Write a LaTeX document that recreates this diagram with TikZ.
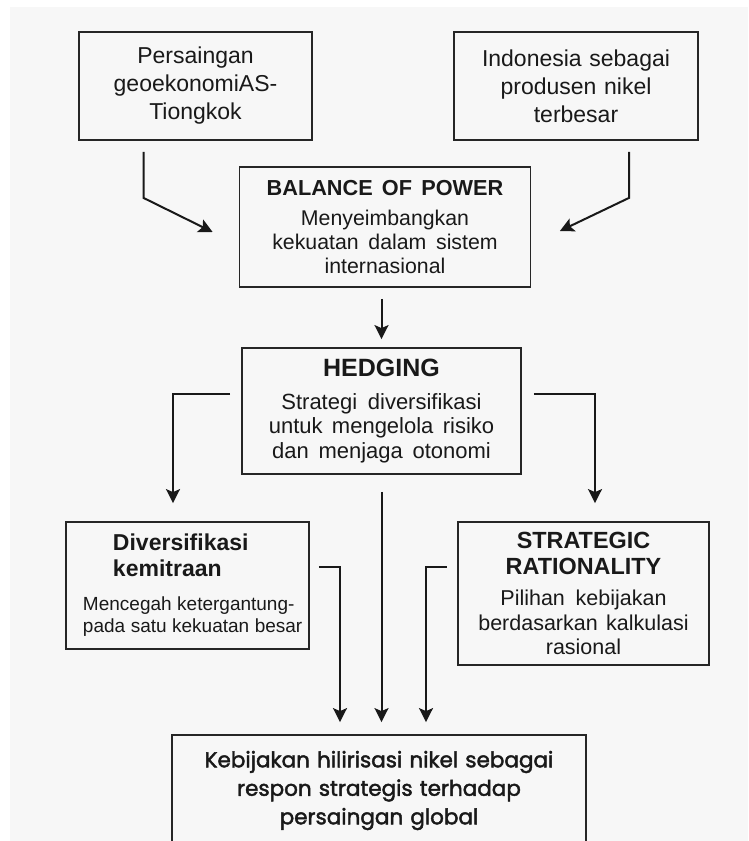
\documentclass[tikz,border=0pt]{standalone}
\usepackage{fontspec}
\setmainfont{Liberation Sans}
\newfontfamily\popfont[FakeBold=2]{Poppins}
\usetikzlibrary{arrows.meta,calc}
\newcommand\ukuran[2]{\fontsize{#1}{#2}\selectfont\spaceskip=.29em plus .1em\relax}

\begin{document}
\begin{tikzpicture}[x=1pt,y=-1pt,
    kotak/.style={draw=black!85, line width=1.8pt, rectangle, align=center, inner sep=0pt, text=black!90},
    panah/.style={-{Stealth[length=14pt,width=14pt,inset=3pt]}, line width=2pt, draw=black!90}]
    \useasboundingbox (0,0) rectangle (748,841);
    \fill[white] (0,0) rectangle (748,841);
    \fill[black!3] (10,7) rectangle (748,841);
    \clip (0,0) rectangle (748,841);

    \node[kotak, text width=233pt, minimum height=108pt, font=\ukuran{23}{28}] (persaingan) at (195.5,86) {Persaingan\\geoekonomiAS-\\Tiongkok};
    \node[kotak, text width=244pt, minimum height=108pt, font=\ukuran{23}{28}] (produsen) at (576,86) {Indonesia sebagai\\produsen nikel\\terbesar};

    \node[kotak, text width=291pt, minimum height=120pt] (bop) at (385,227) {{\bfseries\ukuran{21.7}{24}BALANCE OF POWER\par}\vspace{6pt}{\ukuran{21.3}{24}Menyeimbangkan\\kekuatan dalam sistem\\internasional\par}};

    \node[kotak, text width=279pt, minimum height=126pt] (hedging) at (381.5,411) {{\bfseries\ukuran{25}{26}HEDGING\par}\vspace{8.5pt}{\ukuran{22}{24.5}Strategi diversifikasi\\untuk mengelola risiko\\dan menjaga otonomi\par}};

    \node[kotak, align=left, text width=243pt, minimum height=127pt] (divers) at (187.5,585.5) {{\bfseries\ukuran{23}{26}\hspace*{47pt}Diversifikasi\\\hspace*{47pt}kemitraan\par}\vspace{12pt}{\ukuran{19}{22}\hspace*{17pt}Mencegah ketergantung-\\\hspace*{17pt}pada satu kekuatan besar\par}};

    \node[kotak, text width=251pt, minimum height=143pt] (strat) at (583.5,593.5) {{\bfseries\ukuran{23.4}{26}STRATEGIC\\RATIONALITY\par}\vspace{6.5pt}{\ukuran{21.5}{24.5}Pilihan kebijakan\\berdasarkan kalkulasi\\rasional\par}};

    \node[kotak, text width=414pt, minimum height=111pt, font=\popfont\fontsize{21.5}{28.5}\selectfont] (hasil) at (379,790.5) {Kebijakan hilirisasi nikel sebagai\\respon strategis terhadap\\persaingan global};

    \draw[panah] ($(persaingan.south)+(-52,11)$) -- ++(0,46) -- ($(bop.west)+(-26,5)$);
    \draw[panah] ($(produsen.south)+(53,11)$) -- ++(0,46) -- ($(bop.east)+(28.5,4)$);
    \draw[panah] ($(bop.south)+(-3.5,11)$) -- ($(hedging.north)+(0,-8)$);

    \draw[panah] ($(hedging.west)+(-11,-17)$) -| ($(divers.north)+(-14.5,-18)$);
    \draw[panah] ($(hedging.east)+(12,-17)$) -| ($(strat.north)+(11.5,-18)$);
    \draw[panah] ($(hedging.south)+(0,17)$) -- ($(hasil.north)+(2.5,-12)$);

    \draw[panah] ($(divers.east)+(9,-18.5)$) -| ($(hasil.north)+(-39,-12)$);
    \draw[panah] ($(strat.west)+(-10.5,-26.5)$) -| ($(hasil.north)+(47,-12)$);
\end{tikzpicture}
\end{document}
